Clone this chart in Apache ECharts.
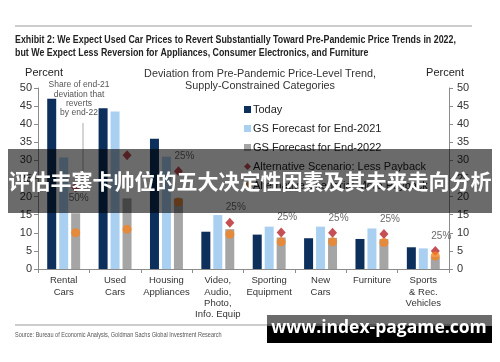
<!DOCTYPE html>
<html>
<head>
<meta charset="utf-8">
<script src="https://cdn.jsdelivr.net/npm/echarts@6/dist/echarts.min.js"></script>
<style>html,body{margin:0;padding:0;background:#fff;}#c{width:500px;height:362px;}</style>
</head>
<body>
<div id="c"></div>
<script>
var categories = ['Rental\nCars','Used\nCars','Housing\nAppliances','Video,\nAudio,\nPhoto,\nInfo. Equip','Sporting\nEquipment','New\nCars','Furniture','Sports\n& Rec.\nVehicles'];
var today   = [47.0, 44.4, 36.0, 10.3, 9.5, 8.5, 8.3, 6.0];
var end2021 = [30.8, 43.5, 31.0, 14.9, 11.7, 11.7, 11.2, 5.7];
var end2022 = [15.4, 19.5, 19.5, 11.0, 8.7, 8.6, 8.3, 3.4];
var altLess = [22.5, 31.4, 27.0, 12.8, 10.1, 10.0, 9.7, 5.0];
var altMore = [10.0, 11.0, 18.5, 9.6, 7.5, 7.5, 7.3, 3.6];
var shareLabels = ['50%', '', '25%', '25%', '25%', '25%', '25%', '25%'];
var yTicks = [0, 5, 10, 15, 20, 25, 30, 35, 40, 45, 50];

var FONT = '"Liberation Sans", Arial, sans-serif';
var chart = echarts.init(document.getElementById('c'), null, {renderer: 'canvas'});

var axisCommon = {
  type: 'value', min: yTicks[0], max: yTicks[yTicks.length - 1], interval: yTicks[1] - yTicks[0],
  axisLine: {show: true, lineStyle: {color: '#8c8c8c', width: 1}},
  axisTick: {show: true, length: 4, lineStyle: {color: '#8c8c8c'}},
  splitLine: {show: false},
  axisLabel: {color: '#333', fontSize: 11, fontFamily: FONT}
};

var labelStyle = {color: '#444', fontSize: 10, fontFamily: FONT};
var altLessData = altLess.map(function (v, i) {
  var item = {value: v, label: Object.assign({show: !!shareLabels[i], formatter: shareLabels[i], position: 'top', distance: 5, offset: [6, 0]}, labelStyle)};
  if (i === 0) { item.label.position = 'bottom'; item.label.distance = 1; item.label.offset = [3, 0]; }
  return item;
});

var option = {
  animation: false,
  textStyle: {fontFamily: FONT},
  grid: {left: 38, right: 51, top: 88, bottom: 93, containLabel: false},
  legend: {
    orient: 'vertical', left: 239, top: 99, itemGap: 8, itemWidth: 7, itemHeight: 7,
    textStyle: {color: '#222', fontSize: 11, fontFamily: FONT, padding: [0, 0, 0, -3]},
    data: [
      {name: 'Today', icon: 'rect'},
      {name: 'GS Forecast for End-2021', icon: 'rect'},
      {name: 'GS Forecast for End-2022', icon: 'rect'},
      {name: 'Alternative Scenario: Less Payback', icon: 'diamond'},
      {name: 'Alternative Scenario: More Payback', icon: 'circle'}
    ]
  },
  xAxis: {
    type: 'category', data: categories,
    axisLine: {lineStyle: {color: '#8c8c8c'}},
    axisTick: {show: true, length: 4, alignWithLabel: false, lineStyle: {color: '#8c8c8c'}},
    axisLabel: {interval: 0, color: '#333', fontSize: 9.5, lineHeight: 11.3, margin: 6, fontFamily: FONT}
  },
  yAxis: [
    Object.assign({}, axisCommon, {position: 'left', axisLabel: Object.assign({}, axisCommon.axisLabel, {margin: 6})}),
    Object.assign({}, axisCommon, {position: 'right', axisLabel: Object.assign({}, axisCommon.axisLabel, {margin: 8})})
  ],
  series: [
    {name: 'Today', type: 'bar', data: today, barWidth: 9, barGap: '33%', itemStyle: {color: '#0c2f5b'}},
    {name: 'GS Forecast for End-2021', type: 'bar', data: end2021, barWidth: 9, barGap: '33%', itemStyle: {color: '#a9d0f1'}},
    {name: 'GS Forecast for End-2022', type: 'bar', data: end2022, barWidth: 9, barGap: '33%', itemStyle: {color: '#a5a5a5'}},
    {name: 'Alternative Scenario: Less Payback', type: 'scatter', data: altLessData, symbol: 'diamond', symbolSize: [9, 10],
     symbolOffset: [12, 0], itemStyle: {color: '#b5232b'}, z: 5},
    {name: 'Alternative Scenario: More Payback', type: 'scatter', data: altMore, symbol: 'circle', symbolSize: 9,
     symbolOffset: [12, 0], itemStyle: {color: '#f5821f'}, z: 6}
  ],
  graphic: [
    {type: 'line', shape: {x1: 15, y1: 26, x2: 472, y2: 26}, style: {stroke: '#999', lineWidth: 1}},
    {type: 'text', x: 15, y: 34, scaleX: 0.885, style: {text: 'Exhibit 2: We Expect Used Car Prices to Revert Substantially Toward Pre-Pandemic Price Trends in 2022,\nbut We Expect Less Reversion for Appliances, Consumer Electronics, and Furniture',
      fill: '#222', font: 'bold 10px "Liberation Sans", sans-serif', lineHeight: 12.5}},
    {type: 'text', x: 260, y: 80, style: {text: 'Deviation from Pre-Pandemic Price-Level Trend,\nSupply-Constrained Categories', align: 'center', verticalAlign: 'middle',
      fill: '#333', font: '10.8px "Liberation Sans", sans-serif', lineHeight: 12.5}},
    {type: 'text', x: 44, y: 73, style: {text: 'Percent', align: 'center', verticalAlign: 'middle', fill: '#222', font: '11px "Liberation Sans", sans-serif'}},
    {type: 'text', x: 445, y: 73, style: {text: 'Percent', align: 'center', verticalAlign: 'middle', fill: '#222', font: '11px "Liberation Sans", sans-serif'}},
    {type: 'text', x: 79, y: 99, style: {text: 'Share of end-21\ndeviation that\nreverts\nby end-22', align: 'center', verticalAlign: 'middle',
      fill: '#555', font: '8.5px "Liberation Sans", sans-serif', lineHeight: 9.4}},
    {type: 'line', shape: {x1: 83, y1: 123, x2: 83, y2: 192}, style: {stroke: '#aaa', lineWidth: 1}},
    {type: 'line', shape: {x1: 15, y1: 325, x2: 472, y2: 325}, style: {stroke: '#999', lineWidth: 1}},
    {type: 'text', x: 15, y: 332, scaleX: 0.88, style: {text: 'Source: Bureau of Economic Analysis, Goldman Sachs Global Investment Research',
      fill: '#555', font: '6.3px "Liberation Sans", sans-serif'}},
    {type: 'rect', shape: {x: 8, y: 149, width: 484, height: 64}, style: {fill: 'rgba(0,0,0,0.58)'}, z: 100},
    {type: 'text', x: 250, y: 181, z: 101, style: {text: '评估丰塞卡帅位的五大决定性因素及其未来走向分析', align: 'center', verticalAlign: 'middle',
      fill: '#fff', font: 'bold 21px "Noto Sans CJK SC", sans-serif'}},
    {type: 'rect', shape: {x: 267, y: 315, width: 225, height: 28}, style: {fill: 'rgba(0,0,0,0.58)'}, z: 100},
    {type: 'rect', shape: {x: 267, y: 326, width: 225, height: 17}, style: {fill: '#000'}, z: 100},
    {type: 'text', x: 379, y: 328, z: 101, style: {text: 'www.index-pagame.com', align: 'center', verticalAlign: 'middle',
      fill: '#fff', font: 'bold 17.5px "Open Sans", sans-serif'}}
  ]
};
chart.setOption(option);
</script>
</body>
</html>
